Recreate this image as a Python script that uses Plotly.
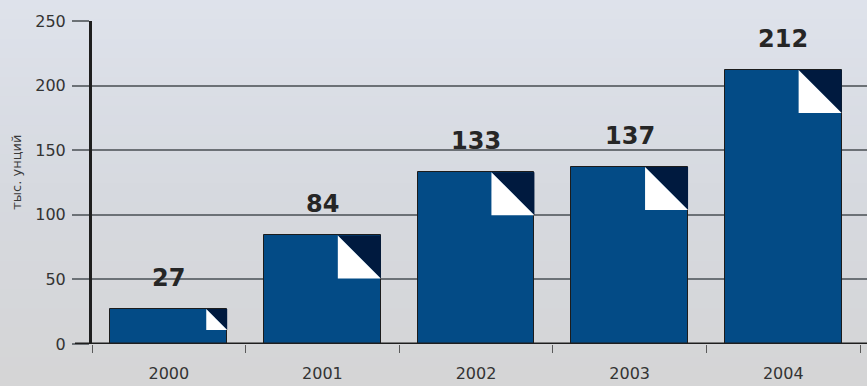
import plotly.graph_objects as go

# Gold production, thousand ounces
years = ["2000", "2001", "2002", "2003", "2004"]
values = [27, 84, 133, 137, 212]
y_ticks = [0, 50, 100, 150, 200, 250]

BAR_COLOR = "#034b86"
FOLD_DARK = "#001a3f"
FOLD_LIGHT = "#ffffff"
GRID_COLOR = "#6c7176"
TEXT_COLOR = "#262626"
FONT = "DejaVu Sans"

W, H = 867, 386
M_L, M_R, M_T, M_B = 92, 0, 21, 42
plot_w = W - M_L - M_R
plot_h = H - M_T - M_B

Y_MAX = 250
X_RANGE = [-0.5, 4.545]
BAR_WIDTH = 0.76

fig = go.Figure()

fig.add_trace(go.Bar(
    x=years,
    y=values,
    width=BAR_WIDTH,
    marker=dict(color=BAR_COLOR, line=dict(color="#1c1c1c", width=1)),
    hoverinfo="skip",
))

shapes = []

# soft vertical background gradient
top_rgb = (222, 226, 235)
mid_rgb = (214, 217, 223)
bot_rgb = (213, 213, 214)
n_bands = 40
for i in range(n_bands):
    t = i / (n_bands - 1)
    if t < 0.5:
        a, b, f = top_rgb, mid_rgb, t / 0.5
    else:
        a, b, f = mid_rgb, bot_rgb, (t - 0.5) / 0.5
    c = tuple(round(a[k] + (b[k] - a[k]) * f) for k in range(3))
    y1 = 1 - i / n_bands
    y0 = 1 - (i + 1) / n_bands
    shapes.append(dict(
        type="rect", xref="paper", yref="paper",
        x0=-M_L / plot_w - 0.01, x1=1.01,
        y0=-M_B / plot_h + (y0 * (H / plot_h)) - 0.001,
        y1=-M_B / plot_h + (y1 * (H / plot_h)) + 0.001,
        fillcolor="rgb(%d,%d,%d)" % c, line=dict(width=0), layer="below",
    ))

# folded page corner at the top right of each bar
px_per_cat = plot_w / (X_RANGE[1] - X_RANGE[0])
px_per_unit = plot_h / Y_MAX
for i, v in enumerate(values):
    size_px = min(43, v * px_per_unit * 0.6)
    dx = size_px / px_per_cat
    dy = size_px / px_per_unit
    x1 = i + BAR_WIDTH / 2
    x0 = x1 - dx
    top = v
    bottom = v - dy
    shapes.append(dict(
        type="path", xref="x", yref="y",
        path=f"M {x0},{top} L {x1},{top} L {x1},{bottom} Z",
        fillcolor=FOLD_DARK, line=dict(width=0), layer="above",
    ))
    shapes.append(dict(
        type="path", xref="x", yref="y",
        path=f"M {x0},{top} L {x0},{bottom} L {x1},{bottom} Z",
        fillcolor=FOLD_LIGHT, line=dict(width=0), layer="above",
    ))

# heavy baseline running out past the value axis
shapes.append(dict(
    type="line", xref="paper", yref="y",
    x0=-17 / plot_w, x1=1, y0=0, y1=0,
    line=dict(color="#1e1e1e", width=3), layer="above",
))

# value labels above the bars
annotations = [
    dict(
        x=i, y=v, xref="x", yref="y", text="<b>%d</b>" % v,
        showarrow=False, xanchor="center", yanchor="bottom", yshift=15,
        font=dict(family=FONT, size=24, color=TEXT_COLOR),
    )
    for i, v in enumerate(values)
]

annotations.append(dict(
    x=-75 / plot_w, y=0.53, xref="paper", yref="paper",
    text="тыс. унций", textangle=-90, showarrow=False,
    xanchor="center", yanchor="middle",
    font=dict(family=FONT, size=13, color="#3a3a3a"),
))

fig.update_layout(
    width=W, height=H,
    margin=dict(l=M_L, r=M_R, t=M_T, b=M_B, pad=0),
    paper_bgcolor="#d8dbe0",
    plot_bgcolor="rgba(0,0,0,0)",
    showlegend=False,
    bargap=0,
    shapes=shapes,
    annotations=annotations,
    xaxis=dict(
        type="category",
        range=X_RANGE,
        tickson="boundaries",
        ticks="outside", ticklen=8, tickcolor="#5a5a5a", tickwidth=1,
        showgrid=False, zeroline=False,
        showline=False,
        ticklabelstandoff=18,
        tickfont=dict(family=FONT, size=16, color="#333333"),
        fixedrange=True,
    ),
    yaxis=dict(
        range=[0, Y_MAX],
        tickvals=y_ticks,
        ticks="outside", ticklen=17, tickcolor=GRID_COLOR, tickwidth=1.5,
        showgrid=True, gridcolor=GRID_COLOR, gridwidth=1.5,
        zeroline=False,
        showline=True, linecolor="#1e1e1e", linewidth=3,
        ticklabelstandoff=3,
        tickfont=dict(family=FONT, size=16, color="#333333"),
        fixedrange=True,
    ),
)

fig.write_html("out.html", config={"displayModeBar": False})
